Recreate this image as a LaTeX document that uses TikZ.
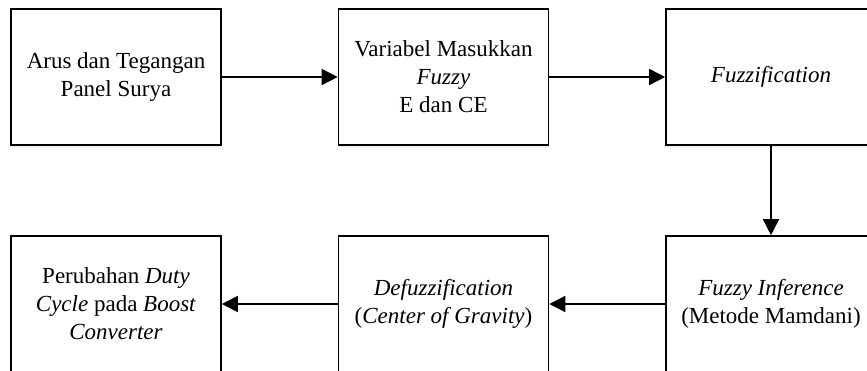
\documentclass[tikz,border=0pt]{standalone}
\usepackage{fontspec}
\setmainfont{Liberation Serif}
\usetikzlibrary{arrows.meta,shadows}

\tikzset{
  block/.style={draw=black, line width=1.6pt, fill=white,
    minimum width=210pt, minimum height=136pt, inner sep=0pt,
    align=center, anchor=center,
    font=\fontsize{23}{28}\selectfont,
    drop shadow={opacity=0.18, fill=blue!25!gray!40, shadow xshift=0.5pt, shadow yshift=-3pt}},
  flow/.style={line width=1.6pt, -{Triangle[length=16pt,width=16pt]}}
}

\begin{document}
\begin{tikzpicture}[x=1pt,y=1pt]
  \useasboundingbox (0,0) rectangle (867,-371);
  \clip (0,0) rectangle (867,-371);

  % upper row
  \node[block] (arus)  at (116,-77)  {Arus dan Tegangan\\Panel Surya};
  \node[block] (masuk) at (443.5,-77) {Variabel Masukkan\\\textit{Fuzzy}\\E dan CE};
  \node[block] (fuzzi) at (771,-77)  {\textit{Fuzzification}};

  % lower row
  \node[block] (infer) at (771,-304) {\textit{Fuzzy Inference}\\(Metode Mamdani)};
  \node[block] (defuz) at (443.5,-304) {\textit{Defuzzification}\\(\textit{Center of Gravity})};
  \node[block] (duty)  at (116,-304) {Perubahan \textit{Duty}\\\textit{Cycle} pada \textit{Boost}\\\textit{Converter}};

  % connectors
  \draw[flow] (arus.east)  -- (masuk.west);
  \draw[flow] (masuk.east) -- (fuzzi.west);
  \draw[flow] (fuzzi.south) -- (infer.north);
  \draw[flow] (infer.west) -- (defuz.east);
  \draw[flow] (defuz.west) -- (duty.east);
\end{tikzpicture}
\end{document}
